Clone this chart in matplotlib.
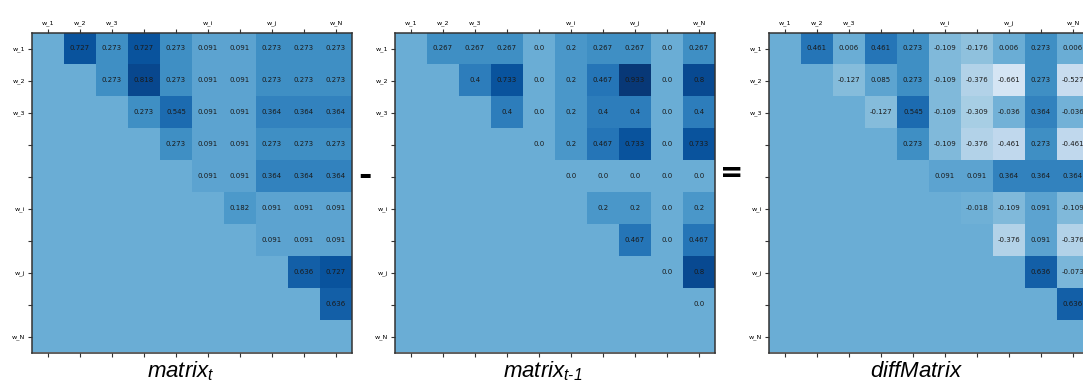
import numpy as np
import matplotlib.pyplot as plt

plt.rcParams['mathtext.fontset'] = 'custom'
plt.rcParams['mathtext.it'] = 'Liberation Sans:italic'
plt.rcParams['mathtext.rm'] = 'Liberation Sans:italic'

# tick labels (rows and columns share them)
tick_labels = ['w_1', 'w_2', 'w_3', '', '', 'w_i', '', 'w_j', '', 'w_N']

# upper triangle rows (values from column i+1 to the end)
matrix_t = [
    [0.727, 0.273, 0.727, 0.273, 0.091, 0.091, 0.273, 0.273, 0.273],
    [0.273, 0.818, 0.273, 0.091, 0.091, 0.273, 0.273, 0.273],
    [0.273, 0.545, 0.091, 0.091, 0.364, 0.364, 0.364],
    [0.273, 0.091, 0.091, 0.273, 0.273, 0.273],
    [0.091, 0.091, 0.364, 0.364, 0.364],
    [0.182, 0.091, 0.091, 0.091],
    [0.091, 0.091, 0.091],
    [0.636, 0.727],
    [0.636],
]

matrix_t1 = [
    [0.267, 0.267, 0.267, 0.0, 0.2, 0.267, 0.267, 0.0, 0.267],
    [0.4, 0.733, 0.0, 0.2, 0.467, 0.933, 0.0, 0.8],
    [0.4, 0.0, 0.2, 0.4, 0.4, 0.0, 0.4],
    [0.0, 0.2, 0.467, 0.733, 0.0, 0.733],
    [0.0, 0.0, 0.0, 0.0, 0.0],
    [0.2, 0.2, 0.0, 0.2],
    [0.467, 0.0, 0.467],
    [0.0, 0.8],
    [0.0],
]

diff_matrix = [
    [0.461, 0.006, 0.461, 0.273, -0.109, -0.176, 0.006, 0.273, 0.006],
    [-0.127, 0.085, 0.273, -0.109, -0.376, -0.661, 0.273, -0.527],
    [-0.127, 0.545, -0.109, -0.309, -0.036, 0.364, -0.036],
    [0.273, -0.109, -0.376, -0.461, 0.273, -0.461],
    [0.091, 0.091, 0.364, 0.364, 0.364],
    [-0.018, -0.109, 0.091, -0.109],
    [-0.376, 0.091, -0.376],
    [0.636, -0.073],
    [0.636],
]

titles = [r'$matrix_{t}$', r'$matrix_{t\text{-}1}$', r'$diffMatrix$']

W, H = 1083, 383
fig = plt.figure(figsize=(W / 100, H / 100), dpi=100)

n = len(tick_labels)


def full(rows):
    m = np.zeros((n, n))
    for i, r in enumerate(rows):
        m[i, i + 1:i + 1 + len(r)] = r
    return m


lefts = [32, 395, 769]
title_x = [180.5, 543, 916.5]
for k, rows in enumerate([matrix_t, matrix_t1, diff_matrix]):
    ax = fig.add_axes([lefts[k] / W, 30.5 / H, 320 / W, 320 / H])
    m = full(rows)
    ax.imshow(m, cmap='Blues', vmin=-1, vmax=1, aspect='auto')
    for i, r in enumerate(rows):
        for j, v in enumerate(r):
            ax.text(i + 1 + j, i, str(round(v, 3)), ha='center', va='center',
                    fontsize=5, color='#1a1a1a')
    ax.set_xticks(range(n))
    ax.set_yticks(range(n))
    ax.set_xticklabels(tick_labels)
    ax.set_yticklabels(tick_labels)
    ax.tick_params(top=True, labeltop=True, bottom=True, labelbottom=False,
                   length=3, width=0.8, labelsize=4.6, pad=2, color='#333333')
    for s in ax.spines.values():
        s.set_color('#333333')
        s.set_linewidth(1.1)
    fig.text(title_x[k] / W, 6 / H, titles[k], ha='center', va='baseline', fontsize=16)

fig.text(364.5 / W, (H - 176) / H, '-', ha='center', va='center',
         fontsize=23, fontweight='bold')
fig.text(731.5 / W, (H - 173) / H, '=', ha='center', va='center',
         fontsize=20, fontweight='bold')

fig.savefig('out.png', dpi=100)
